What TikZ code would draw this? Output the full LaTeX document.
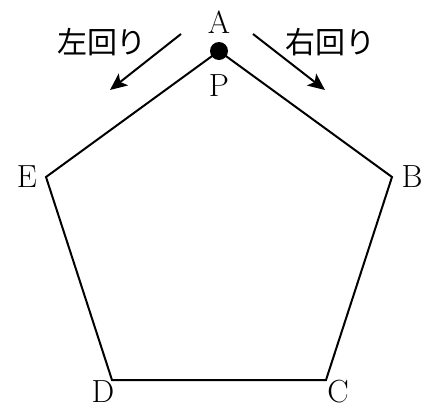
\documentclass[tikz,border=0pt]{standalone}
\usepackage{fontspec}
\newfontfamily\jpfont{Noto Sans CJK JP}
\usetikzlibrary{arrows.meta}

\begin{document}
\begin{tikzpicture}[x=1pt, y=-1pt,
    font=\fontsize{32}{36}\selectfont,
    hen/.style={line width=2pt, line join=miter},
    seta/.style={-{Stealth[length=17pt, width=15pt, inset=4pt]}, line width=2pt},
    ji/.style={inner sep=0pt}]
  \useasboundingbox (0,0) rectangle (424,408);
  % vertices of the pentagon
  \coordinate (A) at (219,51);
  \coordinate (B) at (392,177);
  \coordinate (C) at (326,380);
  \coordinate (D) at (112,380);
  \coordinate (E) at (46,177);
  \draw[hen] (A) -- (B) -- (C) -- (D) -- (E) -- cycle;
  \fill (A) circle (9);
  % vertex labels
  \node[ji] (lA) at (219,22) {A};
  \node[ji] (lB) at (412,177) {B};
  \node[ji] (lC) at (338,392) {C};
  \node[ji] (lD) at (103,392) {D};
  \node[ji] (lE) at (27,177) {E};
  \node[ji] (lP) at (219,86) {P};
  % directions
  \coordinate (hs) at (181,34);
  \coordinate (he) at (110,90);
  \coordinate (ms) at (253,34);
  \coordinate (me) at (325,90);
  \draw[seta] (hs) -- (he);
  \draw[seta] (ms) -- (me);
  \node[ji] (hidari) at (102,42) {\jpfont\fontsize{30}{34}\selectfont 左回り};
  \node[ji] (migi) at (330,42) {\jpfont\fontsize{30}{34}\selectfont 右回り};
\end{tikzpicture}
\end{document}
